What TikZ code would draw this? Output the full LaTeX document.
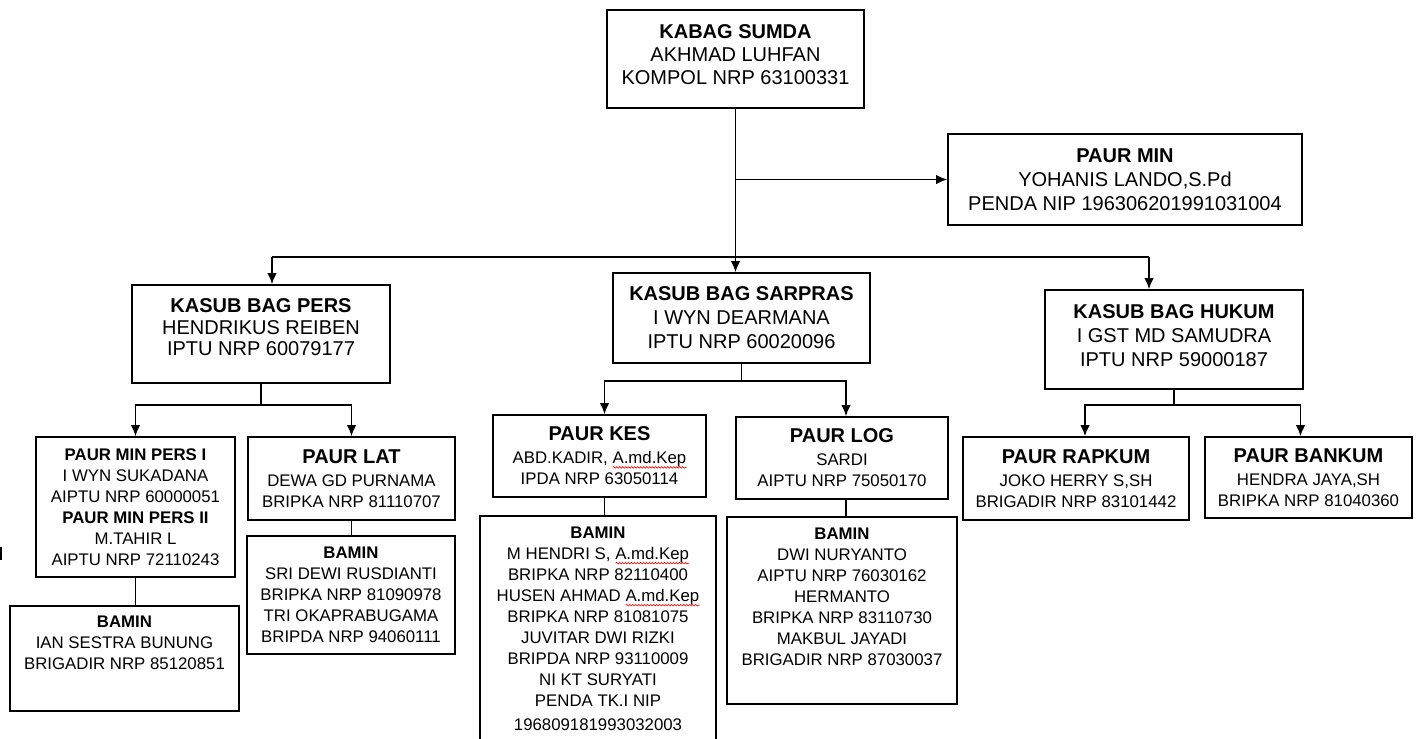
\documentclass[tikz,border=0pt]{standalone}
\usepackage{fontspec}
\setmainfont{Liberation Sans}
\usepackage{xcolor}
\usetikzlibrary{arrows.meta}
\usetikzlibrary{decorations.pathmorphing}

% red spell-check wave under a word
\newcommand{\spellerr}[1]{\setbox0=\hbox{#1}\rlap{\tikz[baseline=0pt]\draw[red, line width=0.6pt, decorate, decoration={snake, amplitude=0.8pt, segment length=3pt}] (0pt,-3.5pt) -- (\wd0,-3.5pt);}\box0}
% large bold title inside a small box
\newcommand{\bigtitle}[1]{{\fontsize{20}{24}\selectfont\bfseries #1}}

\begin{document}
\begin{tikzpicture}[x=1pt, y=-1pt,
	box/.style={draw, line width=1.7pt, inner sep=0pt, align=center},
	bigbox/.style={box, font=\fontsize{20}{24}\selectfont},
	smallbox/.style={box, font=\fontsize{16.8}{21}\selectfont},
	conn/.style={line width=1.6pt},
	arr/.style={conn, -{Latex[length=11pt,width=9.5pt]}}]
		\path[use as bounding box, clip] (0,0) rectangle (1417,739);
		%
		%KABAG SUMDA
		\node[bigbox, minimum width=257, minimum height=98, font=\fontsize{20}{23}\selectfont] (kabag) at (735.5,59) {\textbf{KABAG SUMDA}\\AKHMAD LUHFAN\\KOMPOL NRP 63100331\\[-15pt]\mbox{}};
		%
		%PAUR MIN
		\node[bigbox, minimum width=354, minimum height=91] (paurmin) at (1125,179.5) {\textbf{PAUR MIN}\\YOHANIS LANDO,S.Pd\\PENDA NIP 196306201991031004};
		%
		%KASUB BAG
		\node[bigbox, minimum width=258, minimum height=98, font=\fontsize{20}{21.5}\selectfont] (pers) at (261,334) {\textbf{KASUB BAG PERS}\\HENDRIKUS REIBEN\\IPTU NRP 60079177\\[-8pt]\mbox{}};
		\node[bigbox, minimum width=257, minimum height=90] (sarpras) at (741.5,318) {\textbf{KASUB BAG SARPRAS}\\I WYN DEARMANA\\IPTU NRP 60020096};
		\node[bigbox, minimum width=258, minimum height=99] (hukum) at (1174,339.5) {\textbf{KASUB BAG HUKUM}\\I GST MD SAMUDRA\\IPTU NRP 59000187\\[-16pt]\mbox{}};
		%
		%bawah PERS
		\node[smallbox, minimum width=199, minimum height=140] (minpers) at (135.5,507) {\textbf{PAUR MIN PERS I}\\I WYN SUKADANA\\AIPTU NRP 60000051\\\textbf{PAUR MIN PERS II}\\M.TAHIR L\\AIPTU NRP 72110243};
		\node[smallbox, minimum width=207, minimum height=83] (lat) at (351.5,478.5) {\bigtitle{PAUR LAT}\\[2pt]DEWA GD PURNAMA\\BRIPKA NRP 81110707};
		\node[smallbox, minimum width=229, minimum height=105] (baminpers) at (124.5,658.5) {\textbf{BAMIN}\\IAN SESTRA BUNUNG\\BRIGADIR NRP 85120851\\[10pt]\mbox{}};
		\node[smallbox, minimum width=208, minimum height=118] (baminlat) at (351,595) {\textbf{BAMIN}\\SRI DEWI RUSDIANTI\\BRIPKA NRP 81090978\\TRI OKAPRABUGAMA\\BRIPDA NRP 94060111};
		%
		%bawah SARPRAS
		\node[smallbox, minimum width=213, minimum height=82] (kes) at (599.5,456) {\bigtitle{PAUR KES}\\[2pt]ABD.KADIR, \spellerr{A.md.Kep}\\IPDA NRP 63050114};
		\node[smallbox, minimum width=212, minimum height=82] (log) at (842,458) {\bigtitle{PAUR LOG}\\[2pt]SARDI\\AIPTU NRP 75050170};
		\node[smallbox, minimum width=236, minimum height=226] (baminkes) at (598,629) {\textbf{BAMIN}\\M HENDRI S, \spellerr{A.md.Kep}\\BRIPKA NRP 82110400\\HUSEN AHMAD \spellerr{A.md.Kep}\\BRIPKA NRP 81081075\\JUVITAR DWI RIZKI\\BRIPDA NRP 93110009\\NI KT SURYATI\\PENDA TK.I NIP\\[3pt]196809181993032003};
		\node[smallbox, minimum width=230, minimum height=187] (baminlog) at (842,610.5) {\textbf{BAMIN}\\DWI NURYANTO\\AIPTU NRP 76030162\\HERMANTO\\BRIPKA NRP 83110730\\MAKBUL JAYADI\\BRIGADIR NRP 87030037\\[6pt]\mbox{}};
		%
		%bawah HUKUM
		\node[smallbox, minimum width=226, minimum height=83] (rapkum) at (1076,478.5) {\bigtitle{PAUR RAPKUM}\\[2pt]JOKO HERRY S,SH\\BRIGADIR NRP 83101442};
		\node[smallbox, minimum width=207, minimum height=81] (bankum) at (1308.5,477.5) {\bigtitle{PAUR BANKUM}\\[2pt]HENDRA JAYA,SH\\BRIPKA NRP 81040360};
		%
		%garis KABAG
		\draw[arr] (kabag.south) -- (kabag.south |- sarpras.north);
		\draw[arr] (kabag.south |- paurmin.west) -- (paurmin.west);
		\coordinate (busL) at (272,257);
		\coordinate (busR) at (1149,257);
		\draw[conn] (busL) -- (busR);
		\draw[arr] (busL) -- (busL |- pers.north);
		\draw[arr] (busR) -- (busR |- hukum.north);
		%
		%garis PERS
		\draw[arr] (pers.south) -- ++(0,21) -| (minpers.north);
		\draw[arr] (pers.south) ++(0,21) -| (lat.north);
		\draw[conn] (minpers.south) -- (minpers.south |- baminpers.north);
		\draw[conn] (lat.south) -- (lat.south |- baminlat.north);
		%
		%garis SARPRAS
		\draw[arr] (sarpras.south) -- ++(0,17) -| ([xshift=5pt]kes.north);
		\draw[arr] (sarpras.south) ++(0,17) -| ([xshift=4pt]log.north);
		\draw[conn] ([xshift=5pt]kes.south) -- ([xshift=5pt]kes.south |- baminkes.north);
		\draw[conn] ([xshift=4pt]log.south) -- ([xshift=4pt]log.south |- baminlog.north);
		%
		%garis HUKUM
		\draw[arr] (hukum.south) -- ++(0,15) -| ([xshift=9pt]rapkum.north);
		\draw[arr] (hukum.south) ++(0,15) -| ([xshift=-8pt]bankum.north);
		%
		%tanda kiri
		\draw[line width=2pt] (1,547) -- (1,560);
	\end{tikzpicture}
\end{document}
